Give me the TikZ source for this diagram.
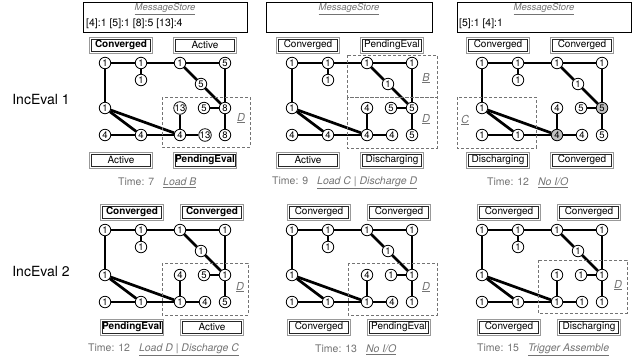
\documentclass[tikz,border=0pt]{standalone}
\usepackage{fontspec}
\setmainfont{TeX Gyre Heros}
\newcommand\gtoprows[6]{%
  \node[vtx] (r1a) at (105,63) {#1};
  \node[vtx] (r1b) at (141,63) {#2};
  \node[vtx] (r1c) at (180,63) {#3};
  \node[vtx] (r1e) at (225,63) {#4};
  \node[vtx] (rb) at (141,80) {#5};
  \node[vtx] (mid) at (201,84) {#6};
}
\newcommand\glowrows[9]{%
  \node[vtx] (r3a) at (105,108) {#1};
  \node[vtx] (r3c) at (180,108) {#2};
  \node[vtx] (r3d) at (204,108) {#3};
  \node[vtx,sthreee] (r3e) at (225,108) {#4};
  \node[vtx] (r4a) at (105,135) {#5};
  \node[vtx] (r4b) at (141,135) {#6};
  \node[vtx,sfourc] (r4c) at (180,135) {#7};
  \node[vtx] (r4d) at (205,135) {#8};
  \node[vtx] (r4e) at (225,135) {#9};
}
\newcommand\gedges{%
  \draw[edg] (r1a) -- (r1b);
  \draw[edg] (r1b) -- (r1c);
  \draw[edg] (r1c) -- (r1e);
  \draw[edg] (r1b) -- (rb);
  \draw[edg] (r1c) -- (mid);
  \draw[edg] (mid) -- (r3e);
  \draw[edg] (r1e) -- (r3e);
  \draw[edg] (r1a) -- (r3a);
  \draw[edg] (r3a) -- (r4b);
  \draw[edg] (r3a) -- (r4c);
  \draw[edg] (r4a) -- (r4b);
  \draw[edg] (r4b) -- (r4c);
  \draw[edg] (r4c) -- (r4d);
  \draw[edg] (r3c) -- (r4c);
  \draw[edg] (r3d) -- (r3e);
  \draw[edg] (r3e) -- (r4e);
}
\begin{document}
\begin{tikzpicture}[x=1pt,y=-1pt,
  vtx/.style={circle,draw,line width=0.8pt,fill=white,minimum size=11.5pt,inner sep=0pt,font=\fontsize{9.5}{10}\selectfont},
  sthreee/.style={}, sfourc/.style={},
  greyfill/.style={fill=black!25},
  edg/.style={line width=2.7pt},
  stbox/.style={draw=black!40,line width=0.8pt,minimum width=63pt,minimum height=16pt,inner sep=2pt,font=\fontsize{10}{12}\selectfont,
    path picture={\draw[black!85,line width=0.7pt] ([shift={(1.9pt,-1.9pt)}]path picture bounding box.north west) rectangle ([shift={(-1.9pt,1.9pt)}]path picture bounding box.south east);}},
  msbox/.style={draw,line width=1pt,minimum height=30pt,inner sep=0pt},
  mstitle/.style={text=black!55,font=\fontsize{9.5}{11}\selectfont\itshape},
  mstext/.style={font=\fontsize{10.5}{12}\selectfont,inner sep=0pt},
  regbox/.style={draw=black!55,dash pattern=on 3pt off 2pt,line width=0.8pt},
  reglab/.style={text=black!55,font=\fontsize{11}{12}\selectfont\itshape},
  captxt/.style={text=black!55,font=\fontsize{10.5}{12}\selectfont,inner sep=0pt},
  sidelab/.style={font=\fontsize{14}{16}\selectfont}
]
\useasboundingbox (0,0) rectangle (636,360);

\node[sidelab] (ie1) at (41,99) {IncEval 1};
\node[sidelab] (ie2) at (41,271) {IncEval 2};

% ---------- Panel 1
\begin{scope}[name prefix=p1-]
  \gtoprows{1}{1}{1}{5}{1}{5}
  \glowrows{1}{13}{5}{8}{4}{4}{4}{13}{8}
  \gedges
  \node[stbox] (tl) at (121,45) {\textbf{Converged}};
  \node[stbox] (tr) at (205,45) {Active};
  \node[stbox] (bl) at (121,160) {Active};
  \node[stbox] (br) at (205,160) {\textbf{PendingEval}};
  \node[msbox,minimum width=164pt] (ms) at (165,17) {};
  \node[mstitle] (mst) at (165,9) {\underline{MessageStore}};
  \node[mstext,anchor=west] (msc) at (86,24) {[4]:1 [5]:1 [8]:5 [13]:4};
  \draw[regbox] (162,97) rectangle (250,147);
  \node[reglab] (rd) at (241,118) {\underline{D}};
  \node[captxt,anchor=west] (cp) at (118,183) {Time: 7\hspace{9pt}\underline{\itshape Load B}};
\end{scope}

% ---------- Panel 2
\begin{scope}[name prefix=p2-]
  \begin{scope}[shift={(187,0)}]
    \gtoprows{1}{1}{1}{1}{1}{1}
    \glowrows{1}{4}{5}{5}{4}{4}{4}{4}{5}
    \gedges
    \node[stbox] (tl) at (121,45) {Converged};
    \node[stbox] (tr) at (205,45) {PendingEval};
    \node[stbox] (bl) at (121,160) {Active};
    \node[stbox] (br) at (205,160) {Discharging};
  \end{scope}
  \node[msbox,minimum width=166pt] (ms) at (349,17) {};
  \node[mstitle] (mst) at (349,9) {\underline{MessageStore}};
  \draw[regbox] (347,55) rectangle (437,97);
  \draw[regbox] (347,97) rectangle (437,148);
  \node[reglab] (rgb) at (426,78) {\underline{B}};
  \node[reglab] (rd) at (426,119) {\underline{D}};
  \node[captxt,anchor=west] (cp) at (272,183) {Time: 9\hspace{9pt}\underline{\itshape Load C | Discharge D}};
\end{scope}

% ---------- Panel 3
\begin{scope}[name prefix=p3-]
  \begin{scope}[shift={(377,0)},sthreee/.style={greyfill},sfourc/.style={greyfill}]
    \gtoprows{1}{1}{1}{1}{1}{1}
    \glowrows{1}{4}{5}{5}{1}{1}{4}{4}{5}
    \gedges
    \node[stbox] (tl) at (121,45) {Converged};
    \node[stbox] (tr) at (205,45) {Converged};
    \node[stbox] (bl) at (121,160) {Discharging};
    \node[stbox] (br) at (205,160) {Converged};
  \end{scope}
  \node[msbox,minimum width=174pt] (ms) at (544,17) {};
  \node[mstitle] (mst) at (544,9) {\underline{MessageStore}};
  \node[mstext,anchor=west] (msc) at (459,24) {[5]:1 [4]:1};
  \draw[regbox] (457,97) rectangle (536,148);
  \node[reglab] (rc) at (465,120) {\underline{C}};
  \node[captxt,anchor=west] (cp) at (487,183) {Time: 12\hspace{9pt}\underline{\itshape No I/O}};
\end{scope}

% ---------- Panel 4
\begin{scope}[name prefix=p4-]
  \begin{scope}[shift={(0,167)}]
    \gtoprows{1}{1}{1}{1}{1}{1}
    \glowrows{1}{4}{5}{1}{1}{1}{1}{4}{5}
    \gedges
    \node[stbox] (tl) at (132,45) {\textbf{Converged}};
    \node[stbox] (tr) at (212,45) {\textbf{Converged}};
    \node[stbox] (bl) at (132,160) {\textbf{PendingEval}};
    \node[stbox] (br) at (212,160) {Active};
  \end{scope}
  \draw[regbox] (162,263) rectangle (248,315);
  \node[reglab] (rd) at (240,287) {\underline{D}};
  \node[captxt,anchor=west] (cp) at (88,350) {Time: 12\hspace{9pt}\underline{\itshape Load D | Discharge C}};
\end{scope}

% ---------- Panel 5
\begin{scope}[name prefix=p5-]
  \begin{scope}[shift={(187,167)}]
    \gtoprows{1}{1}{1}{1}{1}{1}
    \glowrows{1}{4}{1}{1}{1}{1}{1}{4}{1}
    \gedges
    \node[stbox] (tl) at (132,45) {Converged};
    \node[stbox] (tr) at (212,45) {Converged};
    \node[stbox] (bl) at (132,160) {Converged};
    \node[stbox] (br) at (212,160) {PendingEval};
  \end{scope}
  \draw[regbox] (348,263) rectangle (437,315);
  \node[reglab] (rd) at (426,287) {\underline{D}};
  \node[captxt,anchor=west] (cp) at (315,350) {Time: 13\hspace{9pt}\underline{\itshape No I/O}};
\end{scope}

% ---------- Panel 6
\begin{scope}[name prefix=p6-]
  \begin{scope}[shift={(377,167)}]
    \gtoprows{1}{1}{1}{1}{1}{1}
    \glowrows{1}{1}{1}{1}{1}{1}{1}{1}{1}
    \gedges
    \node[stbox] (tl) at (132,45) {Converged};
    \node[stbox] (tr) at (212,45) {Converged};
    \node[stbox] (bl) at (132,160) {Converged};
    \node[stbox] (br) at (212,160) {Discharging};
  \end{scope}
  \draw[regbox] (538,260) rectangle (627,313);
  \node[reglab] (rd) at (618,285) {\underline{D}};
  \node[captxt,anchor=west] (cp) at (477,350) {Time: 15\hspace{9pt}\underline{\itshape Trigger Assemble}};
\end{scope}
\end{tikzpicture}
\end{document}
